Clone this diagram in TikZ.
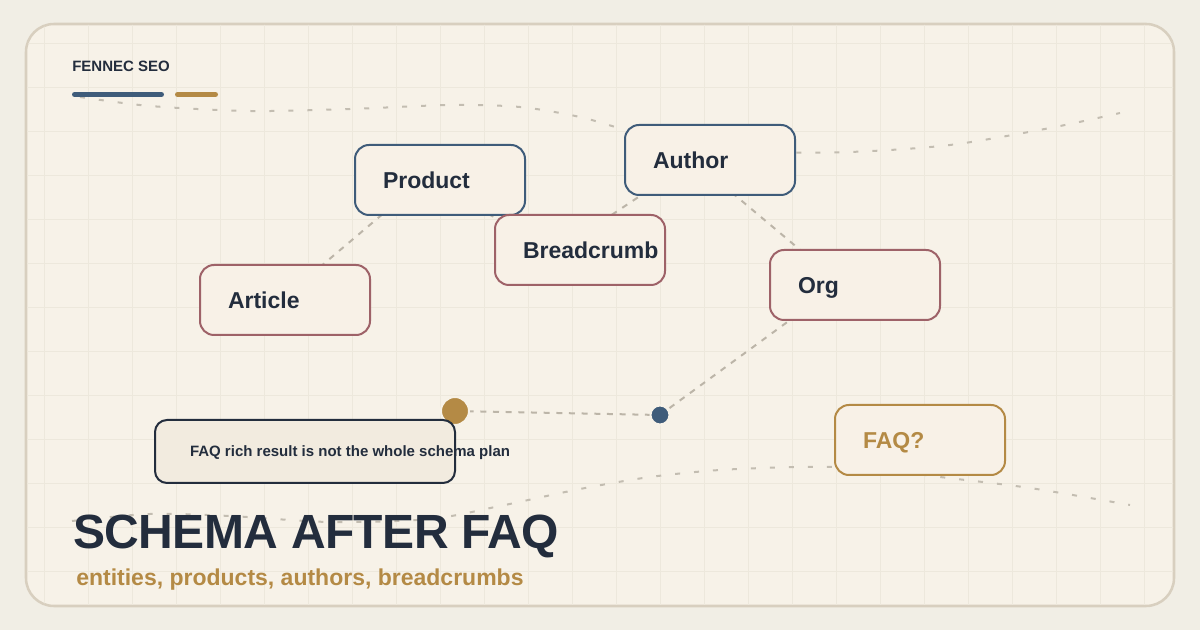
\documentclass[tikz,border=0pt]{standalone}
\usepackage{fontspec}
\setmainfont{Liberation Sans}
\usetikzlibrary{calc}
\pgfdeclarelayer{back}
\pgfdeclarelayer{links}
\pgfsetlayers{back,links,main}
\definecolor{bgc}{HTML}{F1EEE5}
\definecolor{cardc}{HTML}{F7F2E8}
\definecolor{cardline}{HTML}{D8CFBF}
\definecolor{gridc}{HTML}{EDE8DC}
\definecolor{ink}{HTML}{232D3D}
\definecolor{blueb}{HTML}{3F5C7A}
\definecolor{redb}{HTML}{9E6268}
\definecolor{gold}{HTML}{B48A45}
\definecolor{dashc}{HTML}{BCB5A8}
\definecolor{curvec}{HTML}{C3BDB1}
\definecolor{nodefill}{HTML}{F8F1E7}
\definecolor{capfill}{HTML}{F2EBDF}
\newcommand{\entlabel}[1]{\makebox[85.5pt][l]{#1}}
\newcommand{\caplabel}[1]{\makebox[172.5pt][l]{#1}}
\begin{document}
\begin{tikzpicture}[x=0.75pt,y=-0.75pt,
  entity/.style={draw, line width=1.5pt, fill=nodefill, rounded corners=10.5pt,
    minimum height=52.5pt, inner xsep=21pt, inner ysep=0pt,
    text height=12.4pt, text depth=0pt,
    font=\fontsize{17.25pt}{20pt}\selectfont\bfseries, text=ink},
  bluenode/.style={entity, draw=blueb},
  rednode/.style={entity, draw=redb},
  goldnode/.style={entity, draw=gold, text=gold},
  link/.style={draw=dashc, line width=1.5pt, dash pattern=on 4.5pt off 5pt},
  curve/.style={draw=curvec, line width=1.5pt, dash pattern=on 3.75pt off 10.5pt},
  dotnode/.style={circle, inner sep=0pt, draw=cardc, line width=1.5pt}
]
\useasboundingbox (0,0) rectangle (1200,630);
\begin{pgfonlayer}{back}
\fill[bgc] (0,0) rectangle (1200,630);
\path[fill=cardc, draw=cardline, line width=1.9pt, rounded corners=21pt] (26,24) rectangle (1174,606);
\begin{scope}
  \clip[rounded corners=20pt] (27,25) rectangle (1173,605);
  \foreach \gx in {44,88,...,1144} \draw[gridc, line width=0.75pt] (\gx,24) -- (\gx,606);
  \foreach \gy in {44,88,...,572} \draw[gridc, line width=0.75pt] (26,\gy) -- (1174,\gy);
\end{scope}
\draw[curve] plot[smooth] coordinates {(80,97) (150,106) (250,111) (350,109) (450,105) (520,107) (580,117) (630,131) (700,146) (760,152) (850,152) (950,145) (1050,128) (1120,113)};
\draw[curve] plot[smooth] coordinates {(72,521) (150,514) (230,516) (330,522) (430,519) (500,506) (580,489) (650,477) (720,470) (800,467) (870,468) (940,477) (1030,488) (1130,505)};
\end{pgfonlayer}

% brand
\node[anchor=base west, inner sep=0pt, text=ink, font=\fontsize{11.25pt}{13pt}\selectfont\bfseries] (brand) at (72,72) {FENNEC SEO};
\draw[blueb, line width=3.75pt, line cap=round] (74.5,94.5) -- (161.5,94.5);
\draw[gold, line width=3.75pt, line cap=round] (177.5,94.5) -- (215.5,94.5);

% entity nodes
\node[bluenode] (product) at (440,180) {\entlabel{Product}};
\node[bluenode] (author) at (710,160) {\entlabel{Author}};
\node[rednode] (breadcrumb) at (580,250) {\entlabel{Breadcrumb}};
\node[rednode] (article) at (285,300) {\entlabel{Article}};
\node[rednode] (org) at (855,285) {\entlabel{Org}};
\node[goldnode] (faq) at (920,440) {\entlabel{FAQ?}};

% dots
\node[dotnode, fill=gold, minimum size=21pt] (golddot) at (455,411) {};
\node[dotnode, fill=blueb, minimum size=14.25pt] (bluedot) at (660,415) {};

% caption
\node[draw=ink, line width=1.5pt, fill=capfill, rounded corners=9pt,
  minimum height=47.25pt, inner xsep=26.25pt, inner ysep=0pt,
  text height=8.05pt, text depth=0pt, text=ink,
  font=\fontsize{11.25pt}{13pt}\selectfont\bfseries] (caption) at (305,451.5)
  {\caplabel{FAQ rich result is not the whole schema plan}};

% title
\node[anchor=base west, inner sep=0pt, text=ink, font=\fontsize{36pt}{40pt}\selectfont\bfseries\addfontfeature{LetterSpace=-1.2}] (title) at (73,549) {SCHEMA AFTER FAQ};
\node[anchor=base west, inner sep=0pt, text=gold, font=\fontsize{17.25pt}{20pt}\selectfont\bfseries] (subtitle) at (76,586) {entities, products, authors, breadcrumbs};

% connectors
\begin{pgfonlayer}{links}
\draw[link] ($(article.center)+(-4,0)$) -- ($(product.center)+(-17,0)$);
\draw[link] ($(product.center)+(-20,0)$) -- ($(breadcrumb.center)+(-20,0)$);
\draw[link] ($(breadcrumb.center)+(-21,0)$) -- ($(author.center)+(-16,0)$);
\draw[link] ($(author.center)+(-17,0)$) -- ($(org.center)+(-13,0)$);
\draw[link] ($(org.center)+(-17,0)$) -- (bluedot.center);
\draw[link] (golddot.center) -- (bluedot.center);
\end{pgfonlayer}
\end{tikzpicture}
\end{document}
